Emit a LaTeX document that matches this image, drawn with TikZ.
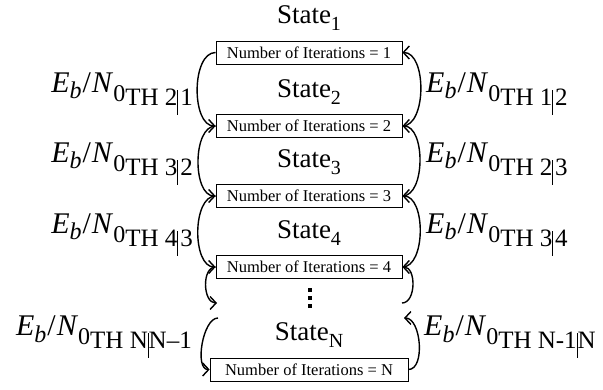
\documentclass[tikz,border=0pt]{standalone}
\usepackage{fontspec}
\setmainfont{Liberation Serif}
\usetikzlibrary{arrows.meta}
\newcommand\stlab[1]{State\raisebox{-6.5pt}{\fontsize{20}{20}\selectfont #1}}
\newcommand\vbarx{\rule[-9pt]{0.9pt}{25pt}}
\newcommand\ebn[1]{{\fontsize{30}{30}\selectfont\textit{E}\raisebox{-6pt}{\fontsize{24}{24}\selectfont\textit{b}}\kern1pt/\kern1pt\textit{N}\raisebox{-9pt}{\fontsize{24}{24}\selectfont 0}\raisebox{-13pt}{\fontsize{25}{25}\selectfont #1}}}
\begin{document}
\begin{tikzpicture}[x=1pt,y=-1pt,
  itbox/.style={draw,line width=0.8pt,minimum width=186pt,minimum height=23pt,inner sep=0pt,font=\fontsize{16.5}{18}\selectfont},
  stlabel/.style={anchor=base,inner sep=0pt,font=\fontsize{27}{27}\selectfont},
  elab/.style={inner sep=0pt},
  conn/.style={line width=1.4pt,-{Straight Barb[length=6pt,width=13pt,line width=1.4pt]}}]
\useasboundingbox (0,0) rectangle (603,390);
% boxes
\node[itbox] (b1) at (309,52.5) {Number of Iterations = 1};
\node[itbox] (b2) at (309,126) {Number of Iterations = 2};
\node[itbox] (b3) at (309,196) {Number of Iterations = 3};
\node[itbox] (b4) at (309,267) {Number of Iterations = 4};
\node[itbox,minimum width=198pt] (bN) at (309,369.5) {Number of Iterations = N};
% state labels
\node[stlabel] (s1) at (309,24) {\stlab{1}};
\node[stlabel] (s2) at (309,98) {\stlab{2}};
\node[stlabel] (s3) at (309,168) {\stlab{3}};
\node[stlabel] (s4) at (309,239) {\stlab{4}};
\node[stlabel] (sN) at (309,341) {\stlab{N}};
% dots
\fill (308.2,288.5) rectangle ++(3.6,3.6);
\fill (308.2,296.5) rectangle ++(3.6,3.6);
\fill (308.2,304.5) rectangle ++(3.6,3.6);
% left labels
\node[elab,anchor=base east] (l1) at (193,93) {\ebn{TH 2\vbarx\hspace{2pt}1}};
\node[elab,anchor=base east] (l2) at (193,163) {\ebn{TH 3\vbarx\hspace{2pt}2}};
\node[elab,anchor=base east] (l3) at (193,234) {\ebn{TH 4\vbarx\hspace{2pt}3}};
\node[elab,anchor=base east] (l4) at (192,336) {\ebn{TH N\vbarx N--1}};
% right labels
\node[elab,anchor=base west] (r1) at (426,93) {\ebn{TH 1\vbarx\hspace{2pt}2}};
\node[elab,anchor=base west] (r2) at (426,163) {\ebn{TH 2\vbarx\hspace{2pt}3}};
\node[elab,anchor=base west] (r3) at (426,234) {\ebn{TH 3\vbarx\hspace{2pt}4}};
\node[elab,anchor=base west] (r4) at (424,336) {\ebn{TH N-1\vbarx N}};
% free ends
\coordinate (cl1) at (217,303);
\coordinate (cl2) at (218,318);
\coordinate (cr1) at (402,303);
\coordinate (cr2) at (404,318);
% left connectors
\draw[conn] (b1.west) to[out=180,in=180,looseness=0.85] (b2.west);
\draw[conn] (b2.west) to[out=180,in=180,looseness=0.85] (b3.west);
\draw[conn] (b3.west) to[out=180,in=180,looseness=0.85] (b4.west);
\draw[conn] (b4.west) to[out=180,in=180,looseness=1.0] (cl1);
\draw[conn] (cl2) to[out=180,in=180,looseness=0.75] (bN.west);
% right connectors
\draw[conn] (b2.east) to[out=0,in=0,looseness=0.85] (b1.east);
\draw[conn] (b3.east) to[out=0,in=0,looseness=0.85] (b2.east);
\draw[conn] (b4.east) to[out=0,in=0,looseness=0.85] (b3.east);
\draw[conn] (cr1) to[out=0,in=0,looseness=1.0] (b4.east);
\draw[conn] (bN.east) to[out=0,in=0,looseness=0.85] (cr2);
\end{tikzpicture}
\end{document}
